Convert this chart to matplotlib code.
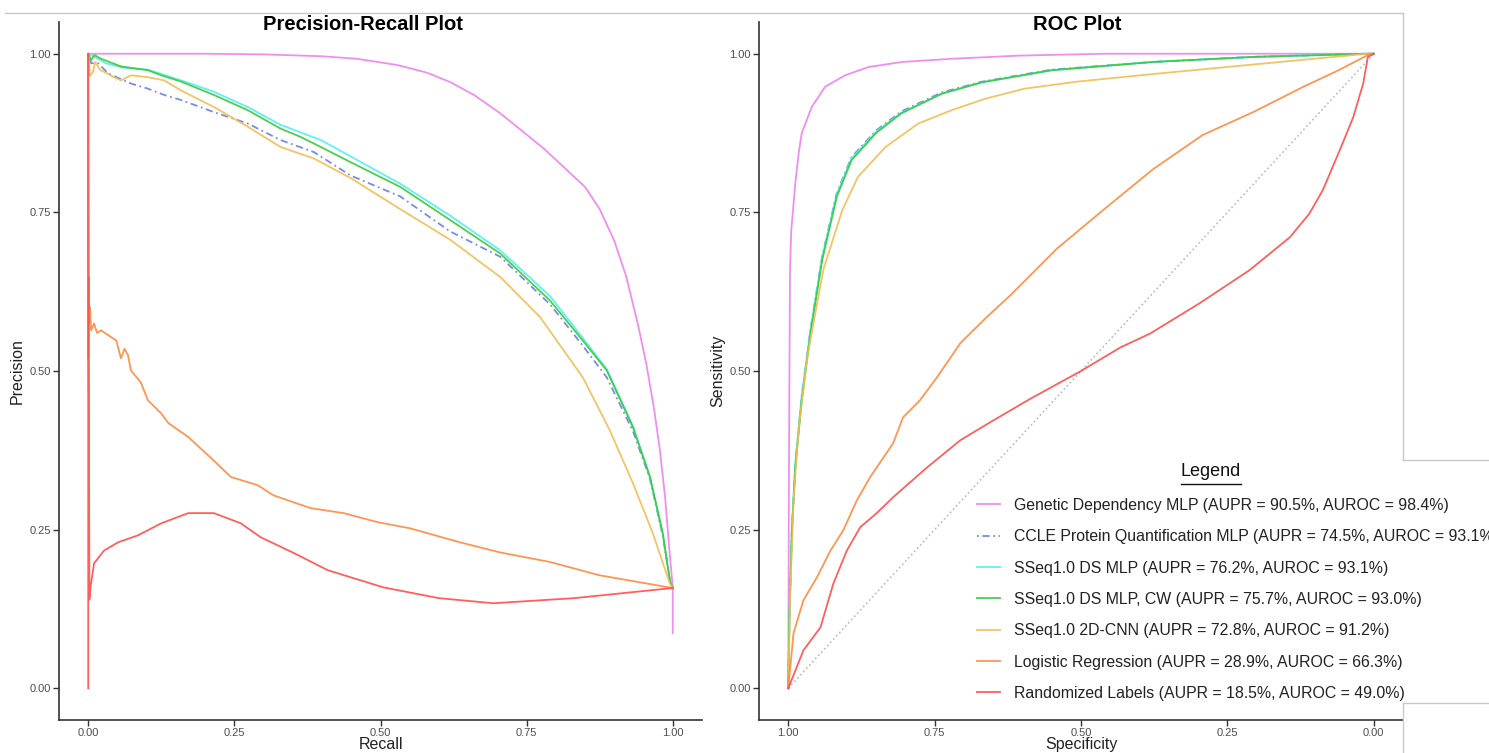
import matplotlib
matplotlib.use('Agg')
from matplotlib import pyplot
from matplotlib.lines import Line2D

pyplot.rcParams['font.family'] = ['Liberation Sans', 'DejaVu Sans']

labels = [
    'Genetic Dependency MLP (AUPR = 90.5%, AUROC = 98.4%)',
    'CCLE Protein Quantification MLP (AUPR = 74.5%, AUROC = 93.1%)',
    'SSeq1.0 DS MLP (AUPR = 76.2%, AUROC = 93.1%)',
    'SSeq1.0 DS MLP, CW (AUPR = 75.7%, AUROC = 93.0%)',
    'SSeq1.0 2D-CNN (AUPR = 72.8%, AUROC = 91.2%)',
    'Logistic Regression (AUPR = 28.9%, AUROC = 66.3%)',
    'Randomized Labels (AUPR = 18.5%, AUROC = 49.0%)',
]
colors = ['#EE82EE', '#6A7FE0', '#4FF0F0', '#3CC83C', '#F0BE55', '#FF8A40', '#FF4D4D']
styles = ['-', (0, (1, 2, 4, 2)), '-', '-', '-', '-', '-']

# precision-recall curves
gd_recall = [0, 0.2, 0.3, 0.4, 0.46, 0.53, 0.58, 0.62, 0.66, 0.705, 0.74, 0.78, 0.815, 0.85, 0.875, 0.9, 0.92,
             0.94, 0.955, 0.968, 0.978, 0.987, 0.994, 1.0, 1.0]
gd_prec = [1.0, 1.0, 0.999, 0.996, 0.992, 0.982, 0.97, 0.955, 0.935, 0.906, 0.88, 0.85, 0.82, 0.79, 0.755, 0.705, 0.65,
           0.575, 0.51, 0.44, 0.375, 0.3, 0.22, 0.159, 0.087]

ccle_recall = [0, 0.005, 0.017, 0.034, 0.073, 0.102, 0.13, 0.159, 0.215, 0.273, 0.329, 0.386, 0.449, 0.534, 0.619,
               0.705, 0.79, 0.846, 0.887, 0.932, 0.961, 0.983, 0.995, 1.0]
ccle_prec = [1.0, 0.985, 0.985, 0.969, 0.953, 0.945, 0.935, 0.927, 0.908, 0.89, 0.864, 0.845, 0.808, 0.775, 0.72,
             0.68, 0.605, 0.54, 0.49, 0.405, 0.33, 0.24, 0.17, 0.158]

ds_recall = [0, 0.011, 0.03, 0.06, 0.102, 0.159, 0.215, 0.273, 0.329, 0.398, 0.534, 0.619, 0.705, 0.79, 0.846, 0.887,
             0.932, 0.961, 0.983, 0.995, 1.0]
ds_prec = [1.0, 0.995, 0.985, 0.978, 0.975, 0.958, 0.94, 0.916, 0.888, 0.864, 0.795, 0.745, 0.69, 0.618, 0.552, 0.503,
           0.413, 0.333, 0.242, 0.17, 0.158]

cw_recall = [0, 0.005, 0.011, 0.022, 0.056, 0.102, 0.125, 0.159, 0.215, 0.273, 0.329, 0.363, 0.398, 0.449, 0.534,
             0.619, 0.705, 0.79, 0.846, 0.887, 0.932, 0.961, 0.983, 0.995, 1.0]
cw_prec = [1.0, 0.99, 0.998, 0.992, 0.98, 0.974, 0.966, 0.956, 0.935, 0.911, 0.882, 0.869, 0.853, 0.829, 0.79,
           0.738, 0.685, 0.611, 0.548, 0.501, 0.411, 0.333, 0.244, 0.17, 0.158]

cnn_recall = [0, 0.003, 0.008, 0.012, 0.02, 0.044, 0.056, 0.073, 0.102, 0.13, 0.159, 0.215, 0.273, 0.329, 0.386, 0.449,
              0.534, 0.619, 0.705, 0.773, 0.846, 0.892, 0.932, 0.966, 0.995, 1.0]
cnn_prec = [1.0, 0.965, 0.971, 0.987, 0.975, 0.963, 0.958, 0.966, 0.963, 0.958, 0.942, 0.916, 0.885, 0.853, 0.835, 0.804,
            0.755, 0.707, 0.648, 0.585, 0.49, 0.407, 0.323, 0.244, 0.165, 0.158]

lr_recall = [0, 0.001, 0.002, 0.003, 0.005, 0.01, 0.015, 0.022, 0.035, 0.048, 0.056, 0.062, 0.068, 0.073, 0.09, 0.102, 0.125, 0.137,
             0.171, 0.21, 0.244, 0.29, 0.317, 0.38, 0.437, 0.494, 0.551, 0.636, 0.705, 0.79, 0.875, 1.0]
lr_prec = [0.52, 0.648, 0.58, 0.6, 0.564, 0.575, 0.56, 0.564, 0.556, 0.548, 0.52, 0.535, 0.525, 0.501, 0.482, 0.454, 0.433, 0.418,
           0.396, 0.363, 0.333, 0.32, 0.304, 0.284, 0.276, 0.262, 0.252, 0.23, 0.214, 0.199, 0.178, 0.158]

rnd_recall = [0, 0, 0.001, 0.002, 0.004, 0.01, 0.027, 0.051, 0.085, 0.125, 0.171, 0.215, 0.261, 0.295, 0.352, 0.41, 0.505, 0.6, 0.693, 0.831, 1.0]
rnd_prec = [0, 1.0, 0.5, 0.14, 0.16, 0.197, 0.217, 0.23, 0.241, 0.26, 0.276, 0.276, 0.26, 0.238, 0.213, 0.186, 0.159, 0.142, 0.134, 0.142, 0.158]

# ROC curves (specificity on a reversed axis)
gd_spec = [1.0, 0.999, 0.998, 0.997, 0.995, 0.988, 0.982, 0.977, 0.96, 0.937, 0.903, 0.863, 0.806, 0.721, 0.607, 0.46, 0.0]
gd_sens = [0.0, 0.3, 0.5, 0.66, 0.72, 0.796, 0.845, 0.875, 0.916, 0.948, 0.966, 0.979, 0.987, 0.992, 0.997, 1.0, 1.0]

ccle_spec = [1.0, 0.998, 0.994, 0.988, 0.977, 0.962, 0.942, 0.917, 0.892, 0.85, 0.807, 0.738, 0.669, 0.55, 0.377, 0.206, 0.01, 0.0]
ccle_sens = [0, 0.112, 0.246, 0.352, 0.46, 0.566, 0.681, 0.781, 0.837, 0.879, 0.909, 0.939, 0.956, 0.975, 0.987, 0.995, 1.0, 1.0]

ds_spec = [1.0, 0.998, 0.994, 0.988, 0.977, 0.962, 0.942, 0.917, 0.892, 0.85, 0.807, 0.738, 0.669, 0.55, 0.377, 0.206, 0.01, 0.0]
ds_sens = [0, 0.115, 0.25, 0.355, 0.462, 0.566, 0.68, 0.779, 0.835, 0.877, 0.907, 0.937, 0.955, 0.974, 0.987, 0.995, 1.0, 1.0]

cw_spec = [1.0, 0.998, 0.994, 0.988, 0.977, 0.962, 0.942, 0.917, 0.892, 0.85, 0.807, 0.738, 0.669, 0.55, 0.377, 0.206, 0.01, 0.0]
cw_sens = [0, 0.112, 0.244, 0.348, 0.454, 0.559, 0.675, 0.775, 0.832, 0.875, 0.906, 0.937, 0.955, 0.974, 0.987, 0.995, 1.0, 1.0]

cnn_spec = [1.0, 0.997, 0.991, 0.983, 0.968, 0.94, 0.908, 0.881, 0.834, 0.778, 0.721, 0.664, 0.596, 0.507, 0.377, 0.206, 0.01, 0.0]
cnn_sens = [0, 0.139, 0.296, 0.402, 0.52, 0.66, 0.753, 0.806, 0.853, 0.89, 0.911, 0.929, 0.945, 0.956, 0.968, 0.983, 1.0, 1.0]

lr_spec = [1.0, 0.991, 0.974, 0.951, 0.928, 0.906, 0.883, 0.86, 0.821, 0.804, 0.775, 0.746, 0.706, 0.661, 0.621, 0.541,
           0.463, 0.377, 0.292, 0.206, 0.12, 0.06, 0.01, 0.0]
lr_sens = [0, 0.087, 0.139, 0.175, 0.217, 0.249, 0.296, 0.333, 0.386, 0.427, 0.454, 0.49, 0.544, 0.585, 0.619, 0.693,
           0.753, 0.818, 0.872, 0.908, 0.948, 0.974, 0.998, 1.0]

rnd_spec = [1.0, 0.974, 0.945, 0.923, 0.9, 0.877, 0.849, 0.821, 0.763, 0.706, 0.65, 0.587, 0.5, 0.433, 0.382, 0.297,
            0.212, 0.143, 0.11, 0.087, 0.058, 0.035, 0.018, 0.01, 0.0]
rnd_sens = [0, 0.06, 0.096, 0.165, 0.217, 0.254, 0.276, 0.301, 0.348, 0.391, 0.422, 0.456, 0.5, 0.537, 0.559, 0.607,
            0.659, 0.711, 0.748, 0.785, 0.848, 0.9, 0.953, 0.995, 1.0]

ticks = [0.0, 0.25, 0.5, 0.75, 1.0]
tick_labels = ['0.00', '0.25', '0.50', '0.75', '1.00']

pr_curves = [(gd_recall, gd_prec), (ccle_recall, ccle_prec), (ds_recall, ds_prec), (cw_recall, cw_prec),
             (cnn_recall, cnn_prec), (lr_recall, lr_prec), (rnd_recall, rnd_prec)]
roc_curves = [(gd_spec, gd_sens), (ccle_spec, ccle_sens), (ds_spec, ds_sens), (cw_spec, cw_sens),
              (cnn_spec, cnn_sens), (lr_spec, lr_sens), (rnd_spec, rnd_sens)]

W, H = 1489, 753


def Style(ax, xlabel, ylabel):
    for side in ['top', 'right']:
        ax.spines[side].set_visible(False)
    for side in ['left', 'bottom']:
        ax.spines[side].set_color('#333333')
        ax.spines[side].set_linewidth(1.2)
    ax.set_xticks(ticks)
    ax.set_xticklabels(tick_labels)
    ax.set_yticks(ticks)
    ax.set_yticklabels(tick_labels)
    ax.tick_params(length=4, width=1, color='#333333', labelsize=8, labelcolor='#4d4d4d', pad=2)
    ax.set_ylim(-0.05, 1.05)
    ax.set_xlabel(xlabel, fontsize=11.5, color='#222222')
    ax.set_ylabel(ylabel, fontsize=11.5, color='#222222')
    ax.xaxis.set_label_coords(0.5, -(737 - 720) / 698)
    ax.yaxis.set_label_coords(-(59 - 25) / 643, 0.5)


fig = pyplot.figure(figsize=(W / 100, H / 100), dpi=100)

ax1 = fig.add_axes([59 / W, 1 - 720 / H, 643 / W, 698 / H])
for (x, y), c, ls in zip(pr_curves, colors, styles):
    ax1.plot(x, y, color=c, linestyle=ls, linewidth=1.3, alpha=0.9)
ax1.set_xlim(-0.05, 1.05)
Style(ax1, 'Recall', 'Precision')

ax2 = fig.add_axes([759 / W, 1 - 720 / H, 644 / W, 698 / H])
ax2.plot([1, 0], [0, 1], color='#bbbbbb', linestyle=':', linewidth=1.2)
handles = []
for (x, y), c, ls, lab in zip(roc_curves, colors, styles, labels):
    h, = ax2.plot(x, y, color=c, linestyle=ls, linewidth=1.3, alpha=0.9, label=lab)
    handles.append(h)
ax2.set_xlim(1.05, -0.05)
Style(ax2, 'Specificity', 'Sensitivity')

fig.text(363 / W, 1 - 24 / H, 'Precision-Recall Plot', ha='center', va='center', fontsize=14.5, fontweight='bold')
fig.text(1077 / W, 1 - 24 / H, 'ROC Plot', ha='center', va='center', fontsize=14.5, fontweight='bold')

leg = fig.legend(handles=handles, labels=labels, loc='upper left', bbox_to_anchor=(977 / W, 1 - 498 / H),
                 frameon=False, fontsize=11.4, handlelength=1.45, handletextpad=0.88, labelspacing=1.03,
                 borderpad=0, borderaxespad=0)
for t in leg.get_texts():
    t.set_color('#222222')
fig.text(1211 / W, 1 - 472 / H, 'Legend', ha='center', va='center', fontsize=13, color='#111111')
fig.add_artist(Line2D([1181 / W, 1241 / W], [1 - 484 / H, 1 - 484 / H], color='#111111', linewidth=1))

# grey frame left over from the screenshot
frame = dict(color='#c8c8c8', linewidth=1)
fig.add_artist(Line2D([5 / W, 1403 / W], [1 - 13 / H, 1 - 13 / H], **frame))
fig.add_artist(Line2D([1403 / W, 1403 / W], [1 - 13 / H, 1 - 460 / H], **frame))
fig.add_artist(Line2D([1403 / W, 1], [1 - 460 / H, 1 - 460 / H], **frame))
fig.add_artist(Line2D([1403 / W, 1], [1 - 703 / H, 1 - 703 / H], **frame))
fig.add_artist(Line2D([1403 / W, 1403 / W], [1 - 703 / H, 0], **frame))

fig.savefig('out.png', dpi=100)
